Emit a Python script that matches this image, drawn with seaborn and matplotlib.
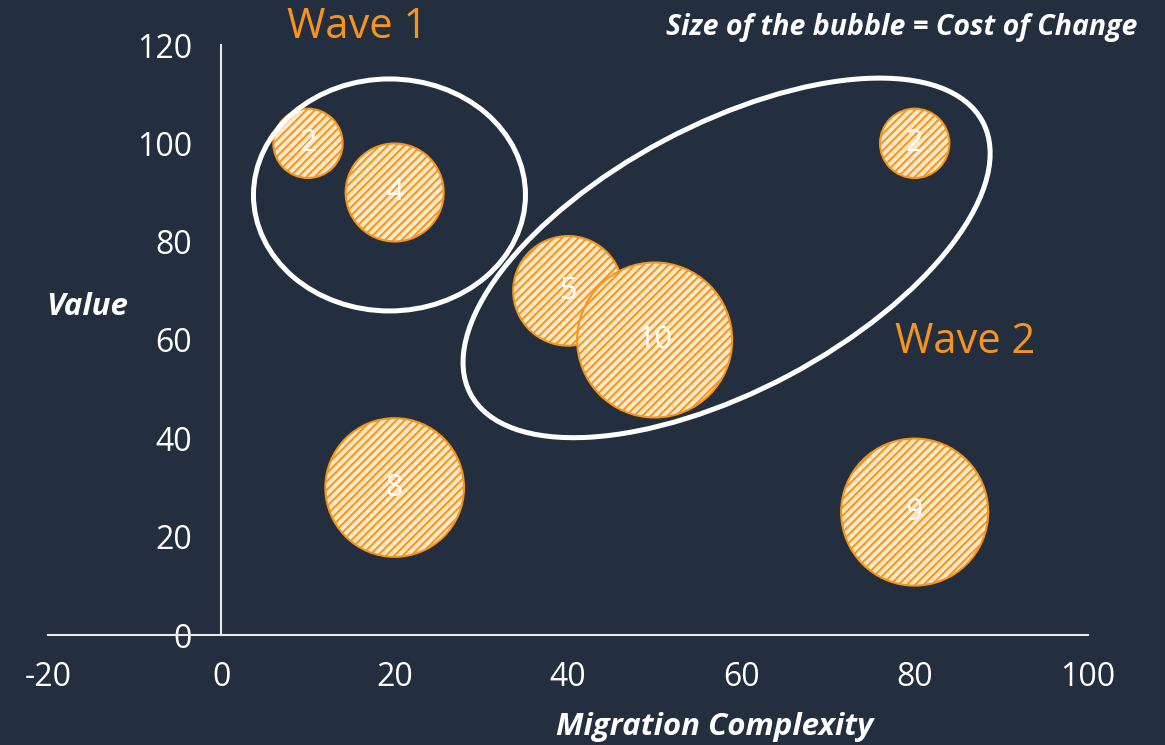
import matplotlib
matplotlib.use("Agg")
import matplotlib.pyplot as plt
from matplotlib.patches import Ellipse
from matplotlib.transforms import IdentityTransform
import pandas as pd
import seaborn as sns

# migration candidates: complexity vs value, bubble = cost of change
complexity = [10, 20, 40, 50, 80, 20, 80]
value = [100, 90, 70, 60, 100, 30, 25]
cost = [2, 4, 5, 10, 2, 8, 9]

x_ticks = [-20, 0, 20, 40, 60, 80, 100]
y_ticks = [0, 20, 40, 60, 80, 100, 120]

wave_names = ["Wave 1", "Wave 2"]

df = pd.DataFrame({"complexity": complexity, "value": value, "cost": cost})

bg = "#232f3e"
orange = "#f7941d"
fill = "#ffe8c6"
fg = "white"

sns.set_style("white")
plt.rcParams["font.family"] = ["Open Sans", "DejaVu Sans"]
plt.rcParams["axes.unicode_minus"] = False
plt.rcParams["hatch.color"] = orange
plt.rcParams["hatch.linewidth"] = 1.4

fig = plt.figure(figsize=(11.65, 7.45), dpi=100, facecolor=bg)
ax = fig.add_axes([48 / 1165, 110 / 745, 1040 / 1165, 590 / 745])
ax.set_facecolor(bg)

sns.scatterplot(data=df, x="complexity", y="value", size="cost",
                sizes=(2490, 12450), size_norm=(2, 10), legend=False,
                color=fill, edgecolor=orange, linewidth=1.5, ax=ax, zorder=3)
ax.collections[0].set_hatch("////")

for cx, vy, c in zip(complexity, value, cost):
    ax.text(cx, vy, str(c), color=fg, fontsize=22, ha="center", va="center", zorder=4)

ax.set_xlim(-20, 100)
ax.set_ylim(0, 120)
ax.set_xticks(x_ticks)
ax.set_yticks(y_ticks)
ax.tick_params(axis="both", length=0, labelsize=23, labelcolor=fg)
ax.tick_params(axis="y", pad=21)
ax.tick_params(axis="x", pad=19)
ax.set_xlabel("")
ax.set_ylabel("")

for s in ["top", "right"]:
    ax.spines[s].set_visible(False)
ax.spines["left"].set_position(("data", 0))
ax.spines["left"].set_color("#e8e8e8")
ax.spines["bottom"].set_color("#e8e8e8")
ax.spines["left"].set_linewidth(1.5)
ax.spines["bottom"].set_linewidth(1.5)

# group outlines, drawn in pixel space so the rotation is not skewed
groups = [((19.4, 89.5), 272, 232, 0), ((58.3, 76.7), 580, 266, 28)]
for (gx, gy), w, h, ang in groups:
    cpx = ax.transData.transform((gx, gy))
    e = Ellipse(cpx, w, h, angle=ang, transform=IdentityTransform(),
                fill=False, edgecolor=fg, linewidth=3.6, zorder=2)
    fig.patches.append(e)
    e.set_figure(fig)

fig.text(287 / 1165, 1 - 27 / 745, wave_names[0], color=orange, fontsize=30,
         ha="left", va="center")
fig.text(895 / 1165, 1 - 342 / 745, wave_names[1], color=orange, fontsize=30,
         ha="left", va="center")

fig.text(1137 / 1165, 1 - 27 / 745, "Size of the bubble = Cost of Change",
         color=fg, fontsize=20.5, fontweight="bold", fontstyle="italic",
         ha="right", va="center")
fig.text(87 / 1165, 1 - 307 / 745, "Value", color=fg, fontsize=22.5,
         fontweight="bold", fontstyle="italic", ha="center", va="center")
fig.text(715 / 1165, 1 - 727 / 745, "Migration Complexity", color=fg, fontsize=22.5,
         fontweight="bold", fontstyle="italic", ha="center", va="center")

fig.savefig("out.png", dpi=100, facecolor=bg)
